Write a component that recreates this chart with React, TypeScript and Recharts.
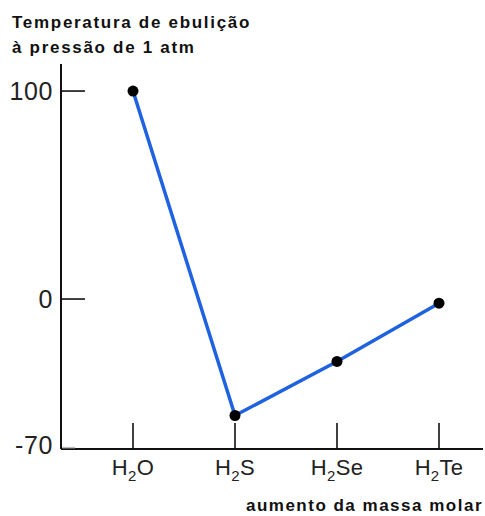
import { LineChart, Line, XAxis, YAxis } from "recharts";

const compounds = ["H2O", "H2S", "H2Se", "H2Te"];
const boilingPoints = [100, -56, -30, -2];
const yTicks = [-70, 0, 100];

const data = compounds.map((name, i) => ({ name, temp: boilingPoints[i] }));

const FONT = "'Liberation Sans', Arial, Helvetica, sans-serif";

function CompoundTick(props: any) {
  const { x, y, payload } = props;
  const label: string = payload.value;
  const match = label.match(/^([A-Z])(\d)(.*)$/);
  return (
    <g>
      <line x1={x} x2={x} y1={y - 26} y2={y} stroke="#111" strokeWidth={1.6} />
      <text x={x} y={y + 26} textAnchor="middle" fontFamily={FONT} fontSize={22} letterSpacing={0.3} fill="#222">
        {match ? (
          <>
            <tspan>{match[1]}</tspan>
            <tspan fontSize={15} dy={6}>{match[2]}</tspan>
            <tspan dy={-6}>{match[3]}</tspan>
          </>
        ) : (
          label
        )}
      </text>
    </g>
  );
}

function TempTick(props: any) {
  const { x, y, payload } = props;
  const isBottom = payload.value === yTicks[0];
  return (
    <g>
      {isBottom ? (
        <line x1={x + 1} x2={x + 14} y1={y + 3} y2={y + 3} stroke="#bbb" strokeWidth={1.5} />
      ) : (
        <line x1={x + 1} x2={x + 24} y1={y} y2={y} stroke="#111" strokeWidth={1.6} />
      )}
      <text x={x - 8} y={y} dy={9} textAnchor="end" fontFamily={FONT} fontSize={25} letterSpacing={0.6} fill="#222">
        {payload.value}
      </text>
    </g>
  );
}

export default function App() {
  return (
    <div style={{ position: "absolute", left: 0, top: 0, width: 485, height: 516, background: "#fff" }}>
      <LineChart
        width={485}
        height={516}
        data={data}
        margin={{ top: 64, right: 2, bottom: 27, left: 0 }}
      >
        <XAxis
          dataKey="name"
          height={40}
          padding={{ left: 72, right: 44 }}
          axisLine={{ stroke: "#111", strokeWidth: 2 }}
          tickLine={false}
          tickSize={0}
          tickMargin={0}
          tick={<CompoundTick />}
          interval={0}
        />
        <YAxis
          type="number"
          width={61}
          domain={[-72.1, 113]}
          ticks={yTicks}
          axisLine={{ stroke: "#111", strokeWidth: 2 }}
          tickLine={false}
          tickSize={0}
          tickMargin={0}
          tick={<TempTick />}
          interval={0}
        />
        <Line
          type="linear"
          dataKey="temp"
          stroke="#1f62e0"
          strokeWidth={3.5}
          dot={{ r: 5.5, fill: "#000", stroke: "#000", strokeWidth: 0 }}
          isAnimationActive={false}
        />
        <text x={12} y={28} fontFamily={FONT} fontSize={17} fontWeight="bold" letterSpacing={1.7} fill="#111">
          Temperatura de ebulição
        </text>
        <text x={12} y={53} fontFamily={FONT} fontSize={17} fontWeight="bold" letterSpacing={1.7} fill="#111">
          à pressão de 1 atm
        </text>
        <text x={483} y={511} textAnchor="end" fontFamily={FONT} fontSize={17} fontWeight="bold" letterSpacing={1.5} fill="#111">
          aumento da massa molar
        </text>
      </LineChart>
    </div>
  );
}
